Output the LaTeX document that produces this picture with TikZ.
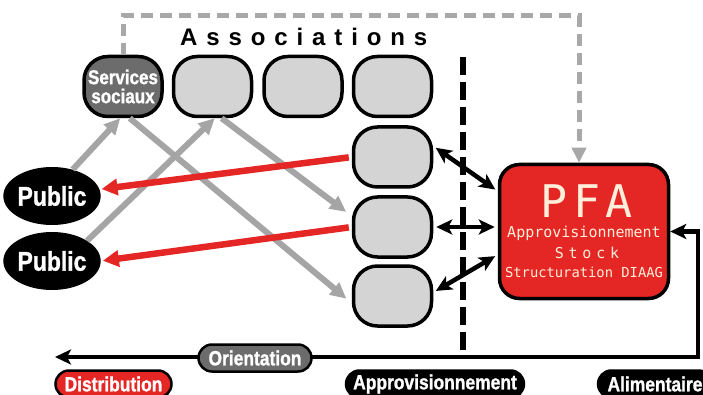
\documentclass[tikz,border=0pt]{standalone}
\usepackage{fontspec}
\setmainfont{Liberation Sans}
\newfontfamily\cond{Liberation Sans}[FakeStretch=0.85, BoldFeatures={FakeBold=1.2}]
\newfontfamily\wide{Liberation Sans}
\newfontfamily\mono{DejaVu Sans Mono}
\usetikzlibrary{arrows.meta,shapes.geometric,shapes.misc,calc}
\definecolor{boxgray}{RGB}{212,212,212}
\definecolor{darkgray}{RGB}{108,108,108}
\definecolor{arrgray}{RGB}{165,165,165}
\definecolor{dashgray}{RGB}{168,168,168}
\definecolor{myred}{RGB}{228,38,36}
\definecolor{cream}{RGB}{255,238,218}
\begin{document}
\begin{tikzpicture}[x=1pt,y=-1pt,
  assoc/.style={draw=black, line width=3.5pt, fill=boxgray, rounded corners=24pt,
    minimum width=78pt, minimum height=60pt, inner sep=0pt},
  pubnode/.style={ellipse, fill=black, minimum width=85pt, minimum height=58pt,
    inner sep=0pt, text=white, font=\cond\bfseries\fontsize{27}{27}\selectfont},
  pill/.style={rounded rectangle, draw=black, line width=2.5pt, minimum height=27pt,
    inner sep=0pt, text=white, font=\cond\bfseries\fontsize{20.5}{20}\selectfont},
  grayarrow/.style={draw=arrgray, line width=6pt, -{Triangle[length=16pt,width=15pt]}},
  redarrow/.style={draw=myred, line width=6.5pt, -{Triangle[length=16pt,width=16pt]}},
  blackarrow/.style={draw=black, line width=4.5pt,
    {Stealth[length=16pt,width=15pt,inset=4pt]}-{Stealth[length=16pt,width=15pt,inset=4pt]},
    shorten <=3pt, shorten >=3pt},
  pfatext/.style={text=cream, inner sep=0pt}
]
\useasboundingbox (0,0) rectangle (703,395);
\fill[white] (0,0) rectangle (703,395);

% association boxes
\node[assoc, fill=darkgray, text=white, align=center,
      font=\cond\bfseries\fontsize{20}{19}\selectfont] (ss) at (123,86.5) {Services\\sociaux};
\node[assoc] (a2) at (212.5,86.5) {};
\node[assoc] (a3) at (303,86.5) {};
\node[assoc] (a4) at (392.5,86.5) {};
\node[assoc] (c1) at (392.5,157) {};
\node[assoc] (c2) at (392.5,227) {};
\node[assoc] (c3) at (392.5,296) {};

\node[anchor=west, inner sep=0pt, font=\wide\bfseries\fontsize{24}{24}\selectfont\addfontfeature{LetterSpace=37}]
  (assoctitle) at (180,37) {Associations};

% PFA
\node[draw=black, line width=3.5pt, fill=myred, rounded corners=20pt,
      minimum width=169pt, minimum height=134pt, inner sep=0pt] (pfa) at (584,231.5) {};
\node[pfatext, font=\mono\fontsize{45}{45}\selectfont\addfontfeature{LetterSpace=12}] (pfat) at (587,201) {PFA};
\node[pfatext, font=\mono\fontsize{15}{15}\selectfont] (pfa1) at (584,233) {Approvisionnement};
\node[pfatext, font=\mono\fontsize{15}{15}\selectfont\addfontfeature{LetterSpace=32}] (pfa2) at (587,253) {Stock};
\node[pfatext, font=\mono\fontsize{13.8}{14}\selectfont] (pfa3) at (584,272) {Structuration DIAAG};

% public
\node[pubnode] (pub1) at (52,196) {Public};
\node[pubnode] (pub2) at (52,261) {Public};

% gray dashed feedback line
\coordinate (tr) at (579,16);
\draw[draw=dashgray, line width=5pt, dash pattern=on 12pt off 7pt,
      -{Triangle[length=15pt,width=14pt]}]
  (ss.north) |- (tr) -- (tr |- pfa.north);

% black dashed vertical line
\coordinate (vt) at (463,57);
\coordinate (vb) at (463,357);
\draw[line width=6pt, dash pattern=on 18pt off 7pt] (vt) -- (vb);

% gray arrows
\draw[grayarrow] (pub1.52) -- (ss.265);
\draw[grayarrow] (pub2.30) -- (a2.274);
\draw[grayarrow, shorten >=7pt] (ss.282) -- (c3.190);
\draw[grayarrow, shorten >=7pt] (a2.286) -- (c2.165);

% red arrows
\draw[redarrow, shorten <=3pt, shorten >=2pt] (c1.west) -- (pub1.8);
\draw[redarrow, shorten <=3pt, shorten >=2pt] (c2.west) -- (pub2.east);

% black double arrows
\draw[blackarrow] (c1.15) -- (pfa.155);
\draw[blackarrow] (c2.east) -- (c2.east -| pfa.west);
\draw[blackarrow] (c3.5) -- (pfa.195);

% bottom black line
\coordinate (rc) at (698,357);
\coordinate (lc) at (55,357);
\draw[line width=4.5pt, line join=miter,
      {Stealth[length=16pt,width=15pt,inset=4pt]}-{Stealth[length=16pt,width=15pt,inset=4pt]}]
  (pfa.east) -| (rc) -- (lc);

% pills
\node[pill, fill=darkgray, minimum width=113pt] (orient) at (255,358) {Orientation};
\node[pill, fill=myred, minimum width=116pt] (distr) at (113.5,384) {Distribution};
\node[pill, fill=black, minimum width=178pt] (approv) at (435,384) {Approvisionnement};
\node[pill, fill=black, minimum width=114pt] (alim) at (655,384) {Alimentaire};
\end{tikzpicture}
\end{document}
